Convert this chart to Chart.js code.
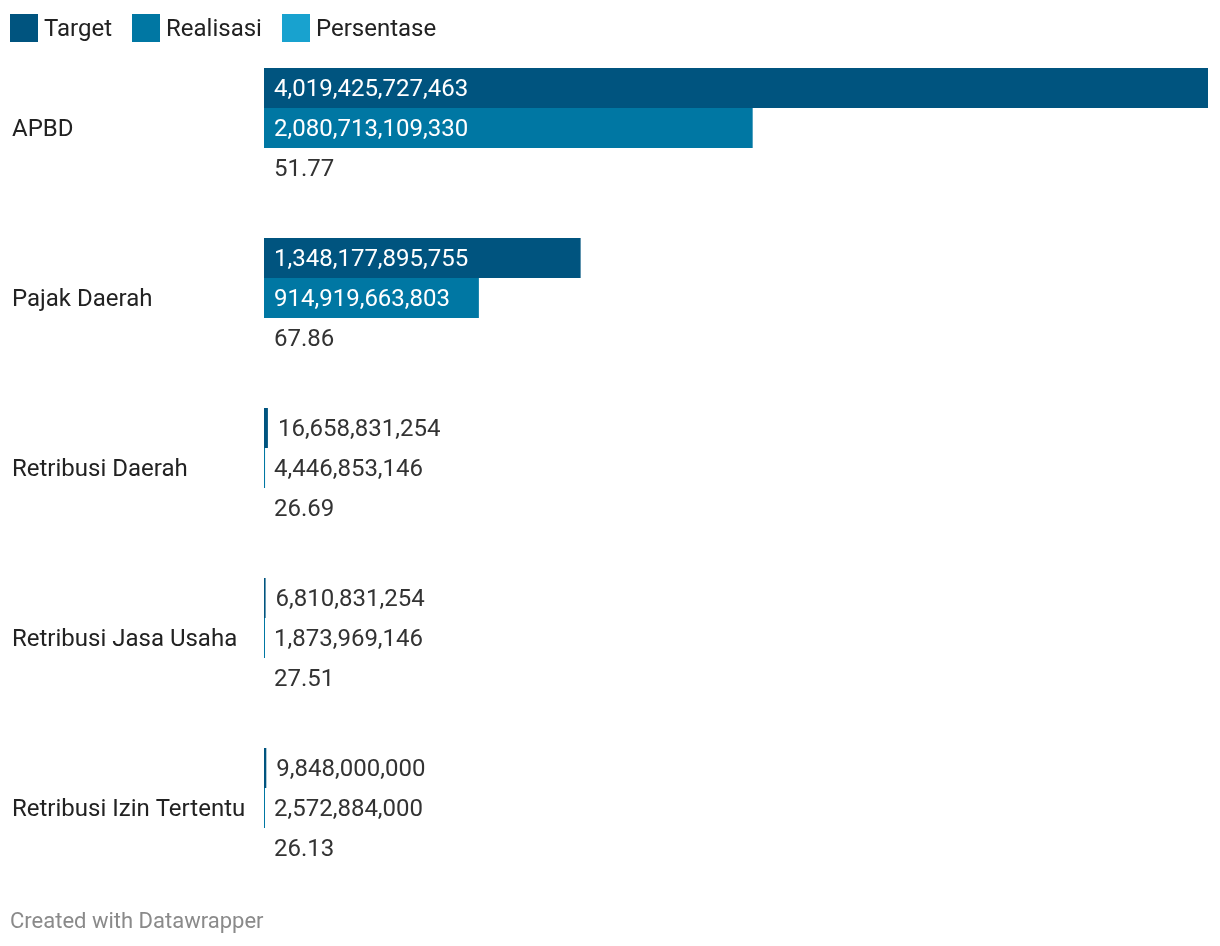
<!DOCTYPE html>
<html>
<head>
<meta charset="utf-8">
<script src="https://cdn.jsdelivr.net/npm/chart.js@4"></script>
<style>
  html, body { margin: 0; padding: 0; background: #fff; }
  body { width: 1220px; height: 946px; position: relative; font-family: Roboto, sans-serif; }
  #wrap { position: absolute; left: 0; top: 0; width: 1220px; height: 946px; }
  .legend { position: absolute; top: 14px; left: 10px; display: flex; align-items: center; font-size: 24px; color: #222; line-height: 26px; }
  .legend .item { display: flex; align-items: center; margin-right: 20px; }
  .legend .box { width: 28px; height: 28px; margin-right: 6px; }
  .footer { position: absolute; left: 10px; top: 908px; font-size: 22px; color: #8a8a8a; }
</style>
</head>
<body>
<div id="wrap"><canvas id="chart"></canvas></div>
<div class="legend" id="legend"></div>
<div class="footer">Created with Datawrapper</div>
<script>
const categories = ['APBD', 'Pajak Daerah', 'Retribusi Daerah', 'Retribusi Jasa Usaha', 'Retribusi Izin Tertentu'];
const target = [4019425727463, 1348177895755, 16658831254, 6810831254, 9848000000];
const realisasi = [2080713109330, 914919663803, 4446853146, 1873969146, 2572884000];
const persentase = [51.77, 67.86, 26.69, 27.51, 26.13];

const seriesNames = ['Target', 'Realisasi', 'Persentase'];
const colors = ['#00547f', '#0077a3', '#18a2cf'];

// legend
const legendEl = document.getElementById('legend');
seriesNames.forEach((name, i) => {
  const item = document.createElement('div');
  item.className = 'item';
  item.innerHTML = '<div class="box" style="background:' + colors[i] + '"></div><span>' + name + '</span>';
  legendEl.appendChild(item);
});

function fmt(v) {
  if (Number.isInteger(v)) return v.toLocaleString('en-US');
  return v.toFixed(2);
}

const labelPlugin = {
  id: 'labels',
  afterDatasetsDraw(chart) {
    const ctx = chart.ctx;
    ctx.save();
    ctx.font = '24px Roboto';
    ctx.textBaseline = 'middle';
    ctx.textAlign = 'left';
    chart.data.datasets.forEach((ds, di) => {
      const meta = chart.getDatasetMeta(di);
      meta.data.forEach((bar, i) => {
        const text = fmt(ds.data[i]);
        const w = ctx.measureText(text).width;
        const barW = bar.x - bar.base;
        if (barW >= w + 20) {
          ctx.fillStyle = '#ffffff';
          ctx.fillText(text, bar.base + 10, bar.y + 2);
        } else {
          // tiny bars: label sits right after the bar end
          const end = barW < 1.5 ? bar.base : bar.x;
          ctx.fillStyle = '#333333';
          ctx.fillText(text, end + 10, bar.y + 2);
        }
      });
    });
    // category labels
    const yScale = chart.scales.y;
    ctx.fillStyle = '#222222';
    categories.forEach((c, i) => {
      ctx.fillText(c, 12, yScale.getPixelForValue(i) + 2);
    });
    ctx.restore();
  }
};

new Chart(document.getElementById('chart'), {
  type: 'bar',
  data: {
    labels: categories,
    datasets: [
      { label: seriesNames[0], data: target, backgroundColor: colors[0], minBarLength: 1 },
      { label: seriesNames[1], data: realisasi, backgroundColor: colors[1], minBarLength: 1 },
      { label: seriesNames[2], data: persentase, backgroundColor: colors[2] }
    ]
  },
  options: {
    indexAxis: 'y',
    responsive: true,
    maintainAspectRatio: false,
    animation: false,
    layout: { padding: { left: 264, right: 12, top: 43, bottom: 53 } },
    datasets: {
      bar: { barPercentage: 1, categoryPercentage: 120 / 170, borderWidth: 0 }
    },
    scales: {
      x: { display: false, min: 0, max: 4019425727463 },
      y: { display: false }
    },
    plugins: {
      legend: { display: false },
      tooltip: { enabled: false }
    }
  },
  plugins: [labelPlugin]
});
</script>
</body>
</html>
